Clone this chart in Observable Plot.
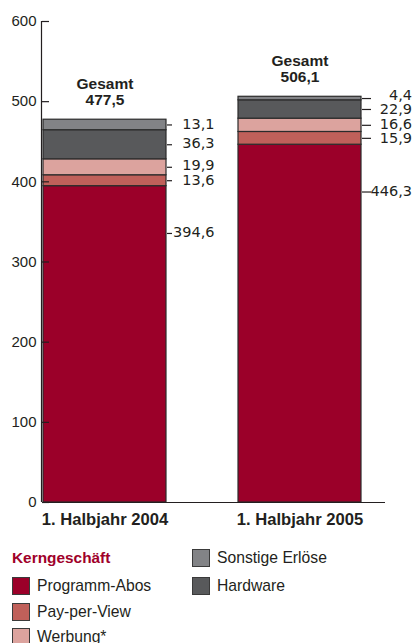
<!DOCTYPE html>
<html>
<head>
<meta charset="utf-8">
<script src="https://cdn.jsdelivr.net/npm/d3@7"></script>
<script src="https://cdn.jsdelivr.net/npm/@observablehq/plot@0.6"></script>
<style>
  html, body { margin: 0; padding: 0; background: #fff; }
  body { width: 417px; height: 643px; overflow: hidden; position: relative; font-family: "Liberation Sans", Arial, sans-serif; color: #231f20; }
  #chart { position: absolute; left: 0; top: 0; }
  .legend { position: absolute; left: 0; top: 0; width: 417px; }
  .item { position: absolute; font-size: 15.7px; line-height: 18px; white-space: nowrap; }
  .sw { position: absolute; width: 18px; height: 18px; border: 1px solid #3a3a3a; box-sizing: border-box; }
  .head { position: absolute; font-size: 15.4px; line-height: 18px; font-weight: bold; color: #a0002a; white-space: nowrap; }
</style>
</head>
<body>
<div id="chart"></div>
<div class="legend" id="legend"></div>
<script>
// ---- data ----
const periods = ["1. Halbjahr 2004", "1. Halbjahr 2005"];
const seriesNames = ["Programm-Abos", "Pay-per-View", "Werbung*", "Hardware", "Sonstige Erlöse"];
const seriesColors = ["#9b0029", "#c0605a", "#dca39e", "#58595b", "#828386"];
const programmAbos = [394.6, 446.3];
const payPerView = [13.6, 15.9];
const werbung = [19.9, 16.6];
const hardware = [36.3, 22.9];
const sonstigeErloese = [13.1, 4.4];
const totals = [477.5, 506.1];
const yTicks = [0, 100, 200, 300, 400, 500, 600];

const seriesValues = [programmAbos, payPerView, werbung, hardware, sonstigeErloese];
const fmt = v => v.toFixed(1).replace(".", ",");

// table for the library
const rows = [];
periods.forEach((p, i) => {
  let base = 0;
  seriesNames.forEach((s, k) => {
    const v = seriesValues[k][i];
    rows.push({period: p, series: s, value: v, y1: base, y2: base + v, k, i});
    base += v;
  });
});
// label y: midpoint of segment; main segment label sits a bit below its top
const labels = rows.map(d => ({...d, ly: d.k === 0 ? d.y2 - 59 : (d.y1 + d.y2) / 2}));
// text position: push neighbouring labels apart a little where they crowd
const minGap = 14.5 / (481 / 600); // px -> data units
labels.forEach(d => d.ty = d.ly);
for (let iter = 0; iter < 20; iter++) {
  [0, 1].forEach(i => {
    const L = labels.filter(d => d.i === i && d.k > 0).sort((a, b) => b.ty - a.ty);
    for (let j = 0; j < L.length - 1; j++) {
      const gap = L[j].ty - L[j + 1].ty;
      if (gap < minGap) {
        const push = (minGap - gap) / 2;
        L[j].ty += push; L[j + 1].ty -= push;
      }
    }
  });
}
const totalRows = periods.map((p, i) => ({period: p, total: totals[i]}));

const bandwidth = 124;
const leader = [6, 10];      // leader length per bar (px)
const labelEnd = [47.5, 50]; // right edge of label text from bar edge (px)

const yAxisLine = (index, scales, values, dims) => {
  const g = d3.create("svg:g");
  g.append("line")
    .attr("x1", dims.marginLeft - 0.5).attr("x2", dims.marginLeft - 0.5)
    .attr("y1", scales.y(600)).attr("y2", scales.y(0))
    .attr("stroke", "#231f20").attr("stroke-width", 1.2);
  return g.node();
};

const labelMarks = [0, 1].flatMap(i => {
  const data = labels.filter(d => d.i === i);
  return [
    Plot.tickY(data, {x: "period", y: "ly", dx: bandwidth, insetRight: bandwidth - leader[i], stroke: "#231f20", strokeWidth: 1.2}),
    Plot.text(data, {x: "period", y: "ty", text: d => fmt(d.value), dx: bandwidth / 2 + labelEnd[i], dy: -1, textAnchor: "end", fontFamily: "DejaVu Sans", fontSize: 14.5, fill: "#231f20"})
  ];
});

const chart = Plot.plot({
  width: 417,
  height: 537,
  marginLeft: 42,
  marginRight: 32,
  marginTop: 21,
  marginBottom: 35,
  style: {fontFamily: "Liberation Sans, Arial, sans-serif", fontSize: "15px", color: "#231f20", background: "#fff"},
  x: {domain: periods, range: [42, 362], paddingInner: 0.367, paddingOuter: 0, label: null},
  y: {domain: [0, 600], label: null},
  color: {domain: seriesNames, range: seriesColors},
  marks: [
    Plot.rectY(rows, {x: "period", y1: "y1", y2: "y2", fill: "series", stroke: "#2b2b2b", strokeWidth: 1.2}),
    yAxisLine,
    Plot.axisY({ticks: yTicks, tickSize: -7, tickPadding: 13, fontSize: 15, stroke: "#231f20", strokeWidth: 1.2}),
    Plot.ruleY([0], {stroke: "#231f20", strokeWidth: 1.2}),
    Plot.axisX({tickSize: 0, tickPadding: 11, fontSize: 16.6, fontWeight: "bold"}),
    ...labelMarks,
    Plot.text(totalRows, {x: "period", y: "total", text: d => "Gesamt\n" + fmt(d.total), lineAnchor: "bottom", dy: -15, fontWeight: "bold", fontSize: 15.5, lineHeight: 1.0, fill: "#231f20"})
  ]
});
document.getElementById("chart").appendChild(chart);

// ---- legend ----
const lg = document.getElementById("legend");
const head = document.createElement("div");
head.className = "head"; head.textContent = "Kerngeschäft";
head.style.left = "12px"; head.style.top = "549px";
lg.appendChild(head);
const positions = [
  [12, 577], [12, 603], [12, 628], [192, 577], [192, 549]
];
seriesNames.forEach((s, k) => {
  const [x, y] = positions[k];
  const sw = document.createElement("div");
  sw.className = "sw"; sw.style.left = x + "px"; sw.style.top = y + "px"; sw.style.background = seriesColors[k];
  lg.appendChild(sw);
  const t = document.createElement("div");
  t.className = "item"; t.textContent = s; t.style.left = (x + 25) + "px"; t.style.top = y + "px";
  lg.appendChild(t);
});
</script>
</body>
</html>
